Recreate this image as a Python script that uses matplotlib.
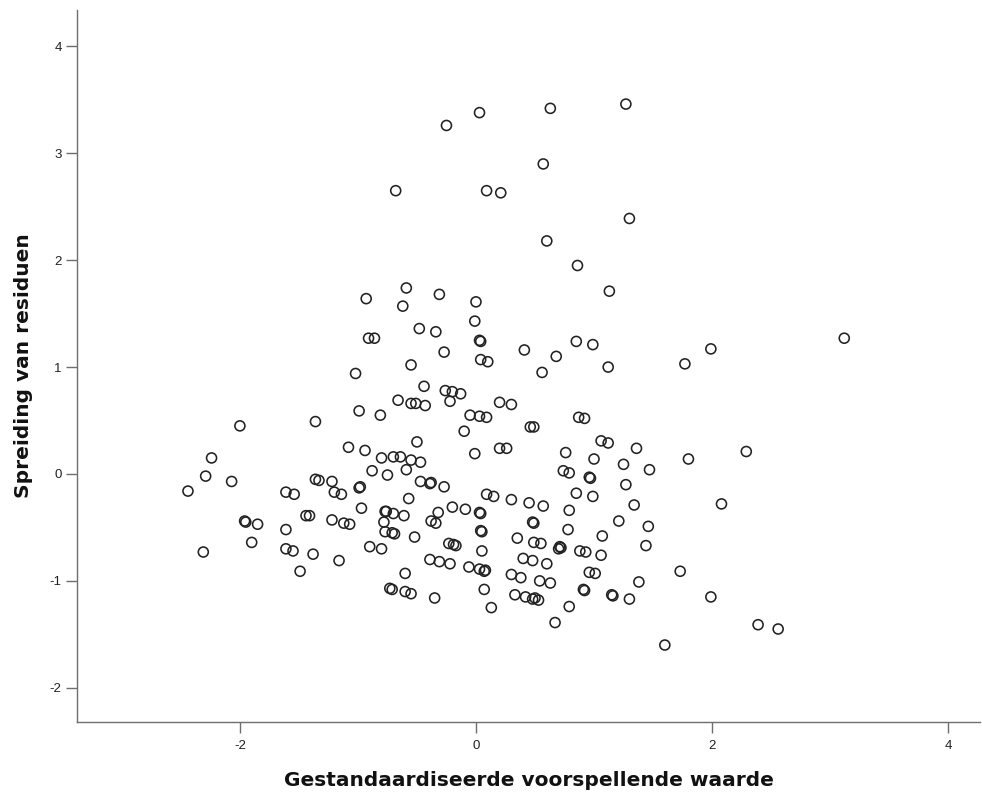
import matplotlib
matplotlib.use("Agg")
import matplotlib.pyplot as plt

# Standardized predicted value (x) and residual spread (y) per case
pred = [
    -0.25, 0.03, 0.63, 1.27, 0.57, -0.68, 0.09, 0.21, 1.30, 0.60, 0.86, -0.59, 1.13, 3.12, 1.99, 1.77,
    -0.93, -0.62, -0.31, 0.00, -0.01, -0.48, -0.34, -0.91, -0.86, 0.03, 0.04, -0.27, 0.04, 0.10, -0.55,
    -1.02, -0.44, -0.26, -0.20, -0.13, -0.66, -0.55, -0.51, -0.43, -0.22, -0.99, -0.81, -0.05, 0.03,
    0.09, 0.20, 0.30,
    0.41, 0.68, 0.56, 0.85, 0.99, 1.12, 0.87, 0.92,
    -0.10, -0.50, -0.01, -1.08, -0.94, -0.80, -0.70, -0.64, -0.55, -0.47, -0.59, -0.88, -0.75, 0.20,
    -1.22, -1.20, -1.14, -0.99, -0.98, -0.47, -0.39, -0.38, -0.27, -0.57, -0.97, -0.77, -0.76, -0.70,
    -0.61, -0.78, -0.77, -0.71, -0.69, -0.52, -1.22, -1.12, -1.07, -0.90, -0.80, -1.16, -0.60, -0.73,
    -0.71, -0.60, -0.55, -0.35, -0.32, -0.38, -0.34, -0.20, -0.09, 0.03, 0.04, 0.04, 0.05, 0.09, 0.15,
    -0.23, -0.19, -0.17, 0.05, -0.39, -0.31, -0.22, -0.06, 0.03, 0.08, 0.07, 0.07, 0.13,
    -2.00, -1.36, -2.24, -2.29, -2.07, -2.44, -1.61, -1.54, -1.36, -1.33, -1.95, -1.96, -1.85, -1.44,
    -1.41, -1.61, -1.90, -1.61, -1.55, -1.38, -2.31, -1.49,
    0.46, 0.49, 0.26, 0.76, 1.06, 1.12, 1.36, 1.00, 1.25, 1.47, 0.74, 0.79, 0.96, 0.97, 1.27, 0.30,
    0.45, 0.57, 0.85, 0.99, 1.34, 0.79, 0.49, 0.48, 1.21, 1.46, 0.78, 0.35, 0.49, 0.55, 1.07, 0.71,
    0.70, 0.72, 0.88, 0.93, 1.44, 1.06, 0.40, 0.48, 0.60, 0.30, 0.38, 0.54, 0.63, 0.96, 1.01, 1.38,
    0.91, 0.92, 1.16, 1.15, 1.30, 0.33, 0.42, 0.48, 0.50, 0.53, 0.79, 0.67,
    1.80, 2.29, 2.08, 1.73, 1.99, 2.39, 2.56, 1.60,
]
resid = [
    3.26, 3.38, 3.42, 3.46, 2.90, 2.65, 2.65, 2.63, 2.39, 2.18, 1.95, 1.74, 1.71, 1.27, 1.17, 1.03,
    1.64, 1.57, 1.68, 1.61, 1.43, 1.36, 1.33, 1.27, 1.27, 1.25, 1.24, 1.14, 1.07, 1.05, 1.02,
    0.94, 0.82, 0.78, 0.77, 0.75, 0.69, 0.66, 0.66, 0.64, 0.68, 0.59, 0.55, 0.55, 0.54,
    0.53, 0.67, 0.65,
    1.16, 1.10, 0.95, 1.24, 1.21, 1.00, 0.53, 0.52,
    0.40, 0.30, 0.19, 0.25, 0.22, 0.15, 0.16, 0.16, 0.13, 0.11, 0.04, 0.03, -0.01, 0.24,
    -0.07, -0.17, -0.19, -0.13, -0.12, -0.07, -0.09, -0.08, -0.12, -0.23, -0.32, -0.35, -0.35, -0.37,
    -0.39, -0.45, -0.54, -0.55, -0.56, -0.59, -0.43, -0.46, -0.47, -0.68, -0.70, -0.81, -0.93, -1.07,
    -1.08, -1.10, -1.12, -1.16, -0.36, -0.44, -0.46, -0.31, -0.33, -0.36, -0.37, -0.53, -0.54, -0.19, -0.21,
    -0.65, -0.66, -0.67, -0.72, -0.80, -0.82, -0.84, -0.87, -0.89, -0.90, -0.91, -1.08, -1.25,
    0.45, 0.49, 0.15, -0.02, -0.07, -0.16, -0.17, -0.19, -0.05, -0.06, -0.45, -0.44, -0.47, -0.39,
    -0.39, -0.52, -0.64, -0.70, -0.72, -0.75, -0.73, -0.91,
    0.44, 0.44, 0.24, 0.20, 0.31, 0.29, 0.24, 0.14, 0.09, 0.04, 0.03, 0.01, -0.03, -0.04, -0.10, -0.24,
    -0.27, -0.30, -0.18, -0.21, -0.29, -0.34, -0.46, -0.45, -0.44, -0.49, -0.52, -0.60, -0.64, -0.65, -0.58, -0.68,
    -0.70, -0.69, -0.72, -0.73, -0.67, -0.76, -0.79, -0.81, -0.84, -0.94, -0.97, -1.00, -1.02, -0.92, -0.93, -1.01,
    -1.08, -1.09, -1.14, -1.13, -1.17, -1.13, -1.15, -1.17, -1.16, -1.18, -1.24, -1.39,
    0.14, 0.21, -0.28, -0.91, -1.15, -1.41, -1.45, -1.60,
]

x_ticks = [-2, 0, 2, 4]
y_ticks = [-2, -1, 0, 1, 2, 3, 4]
x_label = "Gestandaardiseerde voorspellende waarde"
y_label = "Spreiding van residuen"

plt.rcParams["font.family"] = ["Liberation Sans", "DejaVu Sans"]

fig = plt.figure(figsize=(9.82, 8.01), dpi=100)
ax = fig.add_axes([77 / 982, 79 / 801, 903 / 982, 712 / 801])

ax.scatter(pred, resid, s=52, facecolors="none", edgecolors="#222222", linewidths=1.15, zorder=3)

ax.set_xlim(-3.38, 4.27)
ax.set_ylim(-2.32, 4.34)
ax.set_xticks(x_ticks)
ax.set_yticks(y_ticks)
ax.set_xticklabels([str(t) for t in x_ticks])
ax.set_yticklabels([str(t) for t in y_ticks])

for side in ("top", "right"):
    ax.spines[side].set_visible(False)
for side in ("left", "bottom"):
    ax.spines[side].set_color("#6e6e6e")
    ax.spines[side].set_linewidth(1.0)

ax.tick_params(axis="both", direction="out", length=8, width=1.0, color="#6e6e6e",
               labelsize=9.5, labelcolor="#222222")
ax.tick_params(axis="x", pad=5)
ax.tick_params(axis="y", pad=3)

label_font = dict(family="DejaVu Sans", fontsize=14.5, fontweight="bold", color="#111111")
ax.set_xlabel(x_label, labelpad=14, **label_font)
ax.set_ylabel(y_label, labelpad=12, **label_font)

fig.savefig("out.png", dpi=100, facecolor="white")
